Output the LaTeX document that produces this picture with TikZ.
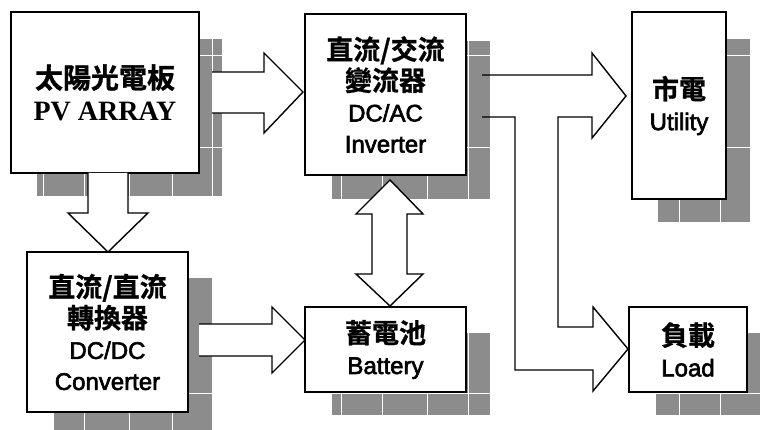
\documentclass[tikz,border=0pt]{standalone}
\usepackage{fontspec}
\setmainfont{Liberation Serif}
\setsansfont{Liberation Sans}
\newfontfamily\heavysans{Liberation Sans}[FakeBold=2.5]
\newfontfamily\cjk{Noto Sans CJK TC}[BoldFont={Noto Sans CJK TC Bold}, BoldFeatures={FakeBold=1}]
\newcommand{\zh}[1]{{\cjk\bfseries\fontsize{27}{31}\selectfont #1}}
\definecolor{shadegray}{RGB}{140,140,140}
\tikzset{
  blk/.style={draw=black, fill=white, line width=2pt, inner sep=0pt, align=center,
    font=\heavysans\fontsize{24}{31}\selectfont},
  barrow/.style={draw=black, fill=white, line width=1.4pt, line join=miter},
  wire/.style={draw=black, line width=1.4pt}
}

\begin{document}
\begin{tikzpicture}[x=1pt,y=-1pt]
\useasboundingbox (0,0) rectangle (760,430);
% shadows
\fill[shadegray] (37,39) rectangle (222,196);
\fill[shadegray] (332,41) rectangle (490,199);
\fill[shadegray] (658,39) rectangle (750,222);
\fill[shadegray] (54,278) rectangle (212,430);
\fill[shadegray] (332,333) rectangle (490,415);
\fill[shadegray] (656,333) rectangle (760,415);
% white grid on the shadows
\begin{scope}
\clip (37,39) rectangle (222,196) (332,41) rectangle (490,199)
      (658,39) rectangle (750,222) (54,278) rectangle (212,430)
      (332,333) rectangle (490,415) (656,333) rectangle (760,415);
\foreach \gy in {55,147,393}
  \draw[white, line width=0.8pt] (0,\gy) -- (760,\gy);
\foreach \gx in {43,84,129,172,212,341,382,427,468,679,720}
  \draw[white, line width=0.8pt] (\gx,0) -- (\gx,430);
\end{scope}

% blocks
\node[blk, minimum width=188pt, minimum height=161pt] (pv) at (105,92.5)
  {\zh{\fontsize{28}{34}\selectfont 太陽光電板}\\[1pt]{\rmfamily\bfseries\fontsize{28}{34}\selectfont PV ARRAY}};
\node[blk, minimum width=161pt, minimum height=161pt] (inv) at (385.5,94.5)
  {\zh{直流/交流}\\\zh{變流器}\\DC/AC\\Inverter};
\node[blk, minimum width=94pt, minimum height=187pt] (grid) at (679,105.5)
  {\zh{市電}\\Utility};
\node[blk, minimum width=161pt, minimum height=160pt] (dcdc) at (107.5,332)
  {\zh{直流/直流}\\\zh{轉換器}\\DC/DC\\Converter};
\node[blk, minimum width=161pt, minimum height=85pt] (bat) at (385.5,349.5)
  {\zh{蓄電池}\\Battery};
\node[blk, minimum width=118pt, minimum height=85pt] (load) at (688,349.5)
  {\zh{負載}\\Load};

% block arrows
\filldraw[barrow] (212,72) -- (264,72) -- (264,53) -- (303,92) -- (264,133) -- (264,113) -- (212,113);
\filldraw[barrow] (88,173) -- (88,213) -- (68,213) -- (108,252) -- (148,213) -- (128,213) -- (128,173);
\filldraw[barrow] (199,324) -- (272,324) -- (272,307) -- (305,340) -- (272,373) -- (272,356) -- (199,356);
\filldraw[barrow] (390,180) -- (423,214) -- (407,214) -- (407,274) -- (423,274) -- (390,306)
  -- (356,274) -- (372,274) -- (372,214) -- (356,214) -- cycle;

% inverter outputs to utility and load
\draw[wire, line join=miter] (482,75) -- (592,75) -- (592,53) -- (626,96) -- (592,138) -- (592,117)
  -- (558,117) -- (558,327) -- (593,327) -- (593,307) -- (628,349) -- (593,391) -- (593,370)
  -- (515,370) -- (515,117) -- (482,117);
\end{tikzpicture}
\end{document}
